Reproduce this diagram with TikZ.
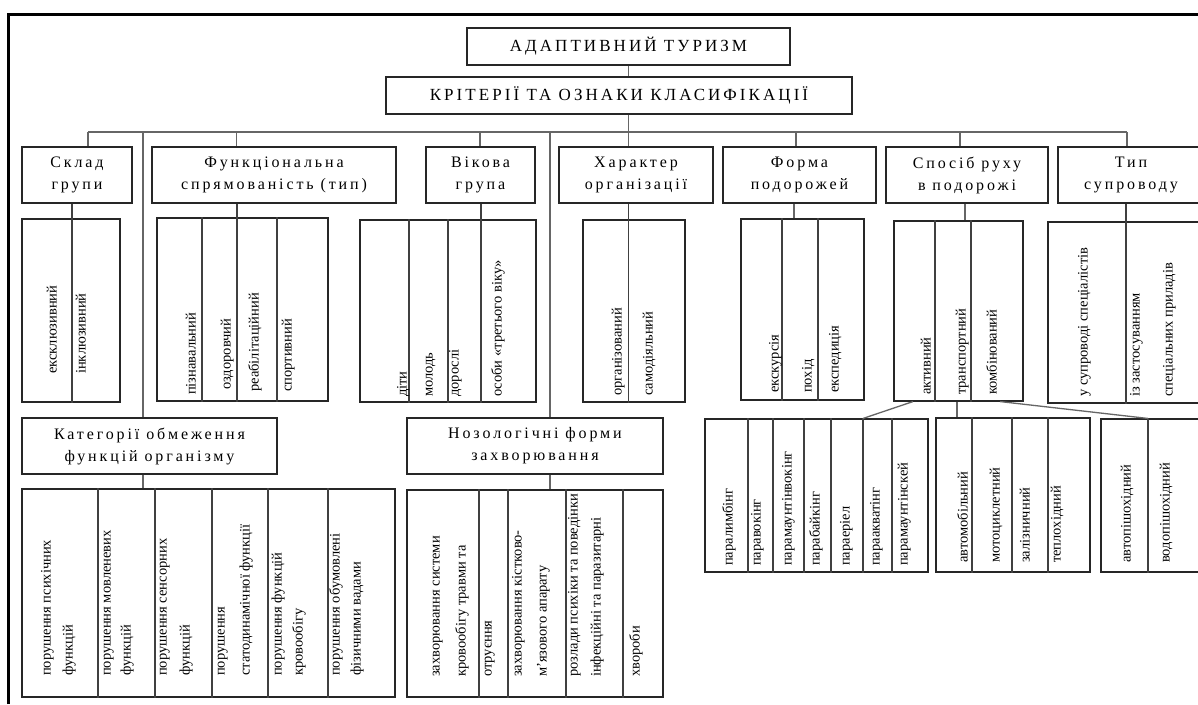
\documentclass[tikz,border=0pt]{standalone}
\usepackage{fontspec}
\setmainfont{Liberation Serif}
\newfontfamily\hfont[LetterSpace=18]{Liberation Serif}
\newfontfamily\vfont{Liberation Serif}
\newcounter{vtc}
\newcommand\bx[7]{\node[#2, minimum width={#5-#3}, minimum height={#6-#4}] (#1) at ({(#3+#5)/2},{(#4+#6)/2}) {#7};}
\newcommand\vtx[3]{\stepcounter{vtc}\node[vt] (v\arabic{vtc}) at ({#1+3.5},{#2}) {#3};}
\begin{document}
\begin{tikzpicture}[x=1pt,y=-1pt,
  hb/.style={draw=black!85, line width=1.1pt, fill=white, inner sep=0pt, align=center, font=\hfont\fontsize{16}{22}\selectfont},
  tb/.style={hb, font=\hfont\fontsize{17}{22}\selectfont},
  sub/.style={draw=black!85, line width=1.1pt, inner sep=0pt},
  conn/.style={draw=black!60, line width=1.3pt},
  dv/.style={draw=black!75, line width=1.1pt},
  vt/.style={rotate=90, anchor=base west, inner sep=0pt, font=\vfont\fontsize{14.5}{17}\selectfont},
]
\useasboundingbox (0,0) rectangle (1198,704);
\fill[white] (0,0) rectangle (1198,704);
% frame
\draw[line width=3pt] (8,704) -- (8,14) -- (1198,14);

% headings
\bx{top}{tb}{467}{28}{790}{65}{АДАПТИВНИЙ ТУРИЗМ}
\bx{crit}{tb}{386}{77}{852}{114}{КРІТЕРІЇ ТА ОЗНАКИ КЛАСИФІКАЦІЇ}

% category boxes
\bx{sk}{hb}{22}{147}{132}{203}{Склад\\групи}
\bx{fn}{hb}{152}{147}{396}{203}{Функціональна\\спрямованість (тип)}
\bx{vk}{hb}{426}{147}{535}{203}{Вікова\\група}
\bx{hr}{hb}{559}{147}{713}{203}{Характер\\організації}
\bx{fm}{hb}{723}{147}{876}{203}{Форма\\подорожей}
\bx{sp}{hb}{886}{147}{1048}{203}{Спосіб руху\\в подорожі}
\bx{tp}{hb}{1058}{147}{1204}{203}{Тип\\супроводу}
\bx{kat}{hb}{22}{418}{277}{474}{Категорії обмеження\\функцій організму}
\bx{noz}{hb}{407}{418}{663}{474}{Нозологічні форми\\захворювання}

% sub boxes
\bx{s1}{sub}{22}{219}{120}{402}{}
\bx{s2}{sub}{157}{218}{328}{401}{}
\bx{s3}{sub}{360}{220}{536}{402}{}
\bx{s4}{sub}{583}{220}{685}{402}{}
\bx{s5}{sub}{741}{219}{864}{400}{}
\bx{s6}{sub}{894}{221}{1023}{401}{}
\bx{s7}{sub}{1048}{222}{1212}{403}{}
\bx{ks}{sub}{22}{489}{395}{697}{}
\bx{ns}{sub}{407}{490}{663}{697}{}
\bx{sa}{sub}{705}{419}{928}{572}{}
\bx{st}{sub}{936}{418}{1090}{572}{}
\bx{sc}{sub}{1101}{419}{1212}{572}{}

% connectors: top levels and bus
\coordinate (bL) at (88,132);
\coordinate (bR) at (1127,132);
\coordinate (bC) at (top.south |- bL);
\draw[conn] (top.south) -- (top.south |- crit.north);
\draw[conn] (top.south |- crit.south) -- (bC);
\draw[conn] (bL) -- (bR);
\draw[conn] (bL) -- (bL |- sk.north);
\coordinate (dfn) at (236.5,132);
\coordinate (dvk) at (480,132);
\coordinate (dfm) at (796,132);
\coordinate (dsp) at (960,132);
\coordinate (l1) at (143,132);
\coordinate (l2) at (550,132);
\draw[conn] (dfn) -- (dfn |- fn.north);
\draw[conn] (dvk) -- (dvk |- vk.north);
\draw[conn] (bC) -- (bC |- hr.north);
\draw[conn] (dfm) -- (dfm |- fm.north);
\draw[conn] (dsp) -- (dsp |- sp.north);
\draw[conn] (bR) -- (bR |- tp.north);
\draw[conn] (l1) -- (l1 |- kat.north);
\draw[conn] (l2) -- (l2 |- noz.north);

% drops into sub boxes (some continue as dividers)
\draw[dv] (72,0 |- sk.south) -- (72,0 |- s1.south);
\draw[dv] (237,0 |- fn.south) -- (237,0 |- s2.south);
\draw[dv] (481,0 |- vk.south) -- (481,0 |- s3.south);
\draw[dv] (628.5,0 |- hr.south) -- (628.5,0 |- s4.south);
\draw[conn] (794,0 |- fm.south) -- (794,0 |- s5.north);
\draw[conn] (965,0 |- sp.south) -- (965,0 |- s6.north);
\draw[dv] (1126,0 |- tp.south) -- (1126,0 |- s7.south);
\draw[conn] (143,0 |- kat.south) -- (143,0 |- ks.north);
\draw[conn] (550,0 |- noz.south) -- (550,0 |- ns.north);

% dividers
\foreach \x in {202,277} \draw[dv] (\x,0 |- s2.north) -- (\x,0 |- s2.south);
\foreach \x in {409,448} \draw[dv] (\x,0 |- s3.north) -- (\x,0 |- s3.south);
\foreach \x in {782,818} \draw[dv] (\x,0 |- s5.north) -- (\x,0 |- s5.south);
\foreach \x in {935,971} \draw[dv] (\x,0 |- s6.north) -- (\x,0 |- s6.south);
\foreach \x in {98,155,212,268,328} \draw[dv] (\x,0 |- ks.north) -- (\x,0 |- ks.south);
\foreach \x in {479,508,566,623} \draw[dv] (\x,0 |- ns.north) -- (\x,0 |- ns.south);
\foreach \x in {748,773,804,831,863,892} \draw[dv] (\x,0 |- sa.north) -- (\x,0 |- sa.south);
\foreach \x in {972,1012,1048} \draw[dv] (\x,0 |- st.north) -- (\x,0 |- st.south);
\draw[dv] (1148,0 |- sc.north) -- (1148,0 |- sc.south);

% connectors from Спосіб руху sub box
\draw[conn] (913,0 |- s6.south) -- (863,0 |- sa.north);
\draw[conn] (957,0 |- s6.south) -- (957,0 |- st.north);
\draw[conn] (1000,0 |- s6.south) -- (1148,0 |- sc.north);

% rotated texts
\vtx{53}{374}{ексклюзивний}
\vtx{82}{374}{інклюзивний}
\vtx{192}{395}{пізнавальний}
\vtx{227}{390}{оздоровчий}
\vtx{255}{392}{реабілітаційний}
\vtx{288}{392}{спортивний}
\vtx{403}{397}{діти}
\vtx{429}{397}{молодь}
\vtx{455}{397}{дорослі}
\vtx{498}{397}{особи «третього віку»}
\vtx{618}{396}{організований}
\vtx{649}{396}{самодіяльний}
\vtx{775}{393}{екскурсія}
\vtx{808}{393}{похід}
\vtx{835}{393}{експедиція}
\vtx{927}{395}{активний}
\vtx{962}{395}{транспортний}
\vtx{993}{395}{комбінований}
\vtx{1084}{397}{у супроводі спеціалістів}
\vtx{1136}{397}{із застосуванням}
\vtx{1169}{397}{спеціальних приладів}

\vtx{47}{676}{порушення психічних}
\vtx{69}{676}{функцій}
\vtx{107}{676}{порушення мовленевих}
\vtx{127}{676}{функцій}
\vtx{163}{676}{порушення сенсорних}
\vtx{186}{676}{функцій}
\vtx{221}{676}{порушення}
\vtx{246}{676}{статодинамічної функції}
\vtx{278}{676}{порушення функцій}
\vtx{299}{676}{кровообігу}
\vtx{336}{676}{порушення обумовлені}
\vtx{357}{676}{фізичними вадами}

\vtx{436}{677}{захворювання системи}
\vtx{462}{677}{кровообігу травми та}
\vtx{488}{677}{отруєння}
\vtx{518}{677}{захворювання кістково-}
\vtx{543}{677}{м’язового апарату}
\vtx{574}{677}{розлади психіки та поведінки}
\vtx{597}{677}{інфекційні та паразитарні}
\vtx{636}{677}{хвороби}

\vtx{729}{566}{паралимбінг}
\vtx{757}{566}{паравокінг}
\vtx{788}{566}{парамаунтінвокінг}
\vtx{816}{566}{парабайкінг}
\vtx{846}{566}{параеріел}
\vtx{876}{566}{параакватінг}
\vtx{904}{566}{парамаунтінскей}
\vtx{964}{563}{автомобільний}
\vtx{996}{563}{мотоциклетний}
\vtx{1026}{563}{залізничний}
\vtx{1057}{563}{теплохідний}
\vtx{1127}{563}{автопішохідний}
\vtx{1166}{563}{водопішохідний}
\end{tikzpicture}
\end{document}
